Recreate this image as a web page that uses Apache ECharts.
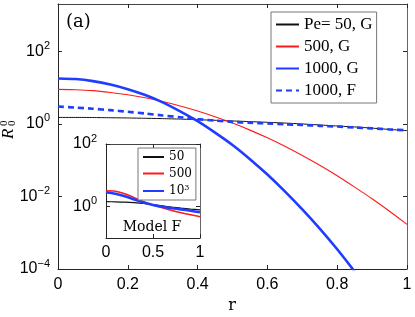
<!DOCTYPE html>
<html>
<head>
<meta charset="utf-8">
<script src="https://cdn.jsdelivr.net/npm/echarts@6/dist/echarts.min.js"></script>
<style>html,body{margin:0;padding:0;background:#fff}#c{width:415px;height:317px}</style>
</head>
<body>
<div id="c"></div>
<script>
// ---- data ----
const rMain = [0,0.05,0.1,0.15,0.2,0.25,0.3,0.35,0.4,0.45,0.5,0.55,0.6,0.65,0.7,0.75,0.8,0.85,0.9,0.95,1];
const pe50G   = [1.50,1.50,1.49,1.47,1.45,1.42,1.39,1.35,1.30,1.25,1.20,1.15,1.10,1.05,0.99,0.93,0.87,0.82,0.76,0.70,0.65];
const pe500G  = [8.9,8.7,8.2,7.3,6.3,5.2,4.1,3.1,2.26,1.57,1.05,0.67,0.41,0.24,0.134,0.072,0.037,0.018,0.0086,0.0039,0.0017];
const pe1000G = [17.8,17.1,15.0,12.1,9.0,6.2,3.9,2.2,1.18,0.57,0.26,0.106,0.040,0.0138,0.0044,0.0013,0.00035,0.000085,0.000019];
const pe1000F = [3.0,2.8,2.6,2.38,2.15,1.92,1.70,1.52,1.35,1.23,1.13,1.07,1.02,0.97,0.93,0.88,0.84,0.79,0.75,0.70,0.66];
const mainNames = ['Pe= 50, G','500, G','1000, G','1000, F'];

const rInset = [0,0.1,0.2,0.3,0.4,0.5,0.6,0.7,0.8,0.9,1];
const in50   = [1.44,1.43,1.40,1.34,1.26,1.16,1.06,0.97,0.90,0.84,0.79];
const in500  = [3.2,3.1,2.6,1.95,1.45,1.13,0.92,0.76,0.64,0.55,0.48];
const in1000 = [2.9,2.6,2.15,1.7,1.35,1.13,1.0,0.9,0.82,0.74,0.66];
const insetNames = ['50','500','10^3'];

const mainYTicks = [1e-4,1e-2,1,100];
const insetYTicks = [1,100];
// -------------------------------------

const pairs = (xs, ys) => ys.map((v,i)=>[xs[i], v]);
const BLUE = '#1f3dff', RED = '#ff1a1a', BLACK = '#111';
const sans = 'Liberation Sans';
const serif = 'DejaVu Serif';
const axCol = '#262626';

function expLabel(v){
  const e = Math.round(Math.log10(v));
  return '{b|10}{s|' + (e<0 ? '\u2212'+(-e) : e) + '}';
}
const richY = {
  b:{fontSize:16, fontFamily:sans, color:'#000', lineHeight:16, verticalAlign:'bottom'},
  s:{fontSize:11, fontFamily:sans, color:'#000', lineHeight:11, verticalAlign:'bottom', padding:[0,0,8,0]}
};

function xAx(grid, pos, show, min, max, interval, margin){
  return {type:'value', gridIndex:grid, position:pos, min:min, max:max, interval:interval,
    axisLine:{show:true, onZero:false, lineStyle:{color: pos==='top' ? '#444' : axCol, width:1}},
    axisTick:{show:true, inside:true, length:4, lineStyle:{color:axCol}},
    axisLabel:{show:show, margin:margin, fontSize:16, fontFamily:sans, color:'#000',
      formatter: v => String(Math.round(v*10)/10)},
    splitLine:{show:false}};
}
function yAx(grid, pos, show, min, max, ticks, margin){
  return {type:'log', logBase:10, gridIndex:grid, position:pos, min:min, max:max,
    axisLine:{show:true, onZero:false, lineStyle:{color: pos==='right' ? '#666' : axCol, width:1}},
    axisTick:{show:true, inside:true, length:4, customValues:ticks, lineStyle:{color:axCol}},
    axisLabel:{show:show, margin:margin, customValues:ticks, formatter:expLabel, rich:richY},
    splitLine:{show:false}, minorTick:{show:false}};
}

const chart = echarts.init(document.getElementById('c'), null, {renderer:'canvas'});
const option = {
  animation:false,
  backgroundColor:'#fff',
  grid:[
    {left:58, right:8, top:4, bottom:48},
    {left:106, right:215, top:144, bottom:79, show:true, backgroundColor:'#fff', borderWidth:0}
  ],
  xAxis:[
    xAx(0,'bottom',true,0,1,0.2,8),
    xAx(0,'top',false,0,1,0.2,8),
    xAx(1,'bottom',true,0,1,0.5,7),
    xAx(1,'top',false,0,1,0.5,7)
  ],
  yAxis:[
    yAx(0,'left',true,1e-4,2000,mainYTicks,8),
    yAx(0,'right',false,1e-4,2000,mainYTicks,8),
    yAx(1,'left',true,0.1,100,insetYTicks,9),
    yAx(1,'right',false,0.1,100,insetYTicks,9)
  ],
  legend:[
    {data:mainNames, orient:'vertical', left:271, top:12, padding:[4,4,4,4],
     itemWidth:23, itemHeight:14, itemGap:5, borderColor:'#777', borderWidth:1, backgroundColor:'#fff',
     itemStyle:{opacity:0},
     textStyle:{fontFamily:'Liberation Serif', fontSize:17, color:'#000'}, selectedMode:false},
    {data:insetNames, orient:'vertical', left:138, top:148, padding:[3,4,3,4],
     itemWidth:21, itemHeight:10, itemGap:4.5, borderColor:'#777', borderWidth:1, backgroundColor:'#fff',
     itemStyle:{opacity:0},
     formatter: n => n==='10^3' ? '{n|10}{p|3}' : '{n|'+n+'}',
     textStyle:{fontFamily:serif, fontSize:12, color:'#000',
       rich:{n:{fontFamily:serif, fontSize:12, color:'#000'}, p:{fontFamily:serif, fontSize:8, color:'#000', verticalAlign:'top', padding:[0,0,6,0]}}},
     selectedMode:false}
  ],
  series:[
    {name:mainNames[0], type:'line', xAxisIndex:0, yAxisIndex:0, data:pairs(rMain,pe50G), symbol:'none', smooth:0.2,
     lineStyle:{color:BLACK, width:1}, itemStyle:{color:BLACK}},
    {name:mainNames[1], type:'line', xAxisIndex:0, yAxisIndex:0, data:pairs(rMain,pe500G), symbol:'none', smooth:0.2,
     lineStyle:{color:RED, width:1.1}, itemStyle:{color:RED}},
    {name:mainNames[2], type:'line', xAxisIndex:0, yAxisIndex:0, data:pairs(rMain,pe1000G), symbol:'none', smooth:0.2,
     lineStyle:{color:BLUE, width:2.6}, itemStyle:{color:BLUE}},
    {name:mainNames[3], type:'line', xAxisIndex:0, yAxisIndex:0, data:pairs(rMain,pe1000F), symbol:'none', smooth:0.2,
     lineStyle:{color:BLUE, width:2.6, type:[6,4]}, itemStyle:{color:BLUE}},
    {name:insetNames[0], type:'line', xAxisIndex:2, yAxisIndex:2, data:pairs(rInset,in50), symbol:'none', smooth:0.3,
     lineStyle:{color:BLACK, width:1.2}, itemStyle:{color:BLACK}},
    {name:insetNames[1], type:'line', xAxisIndex:2, yAxisIndex:2, data:pairs(rInset,in500), symbol:'none', smooth:0.3,
     lineStyle:{color:RED, width:1.5}, itemStyle:{color:RED}},
    {name:insetNames[2], type:'line', xAxisIndex:2, yAxisIndex:2, data:pairs(rInset,in1000), symbol:'none', smooth:0.3,
     lineStyle:{color:BLUE, width:2.6}, itemStyle:{color:BLUE}}
  ],
  graphic:[
    {type:'text', left:66, top:13, style:{text:'(a)', font:'18px "DejaVu Serif"', fill:'#000'}},
    {type:'text', x:232, y:306, style:{text:'r', font:'16px "DejaVu Serif"', fill:'#000', textAlign:'center', textVerticalAlign:'middle'}},
    {type:'text', x:152, y:227, z:10, style:{text:'Model F', font:'14px "DejaVu Serif"', fill:'#000', textAlign:'center', textVerticalAlign:'middle'}},
    {type:'group', x:9, y:139, rotation:Math.PI/2, children:[
      {type:'text', x:0, y:0, style:{text:'R', font:'italic 17px "Liberation Serif"', fill:'#000', textAlign:'left', textVerticalAlign:'middle'}},
      {type:'text', x:13, y:-5, style:{text:'0', font:'11px "Liberation Serif"', fill:'#000', textAlign:'left', textVerticalAlign:'middle'}},
      {type:'text', x:13, y:3, style:{text:'0', font:'11px "Liberation Serif"', fill:'#000', textAlign:'left', textVerticalAlign:'middle'}}
    ]}
  ]
};
chart.setOption(option);
</script>
</body>
</html>
